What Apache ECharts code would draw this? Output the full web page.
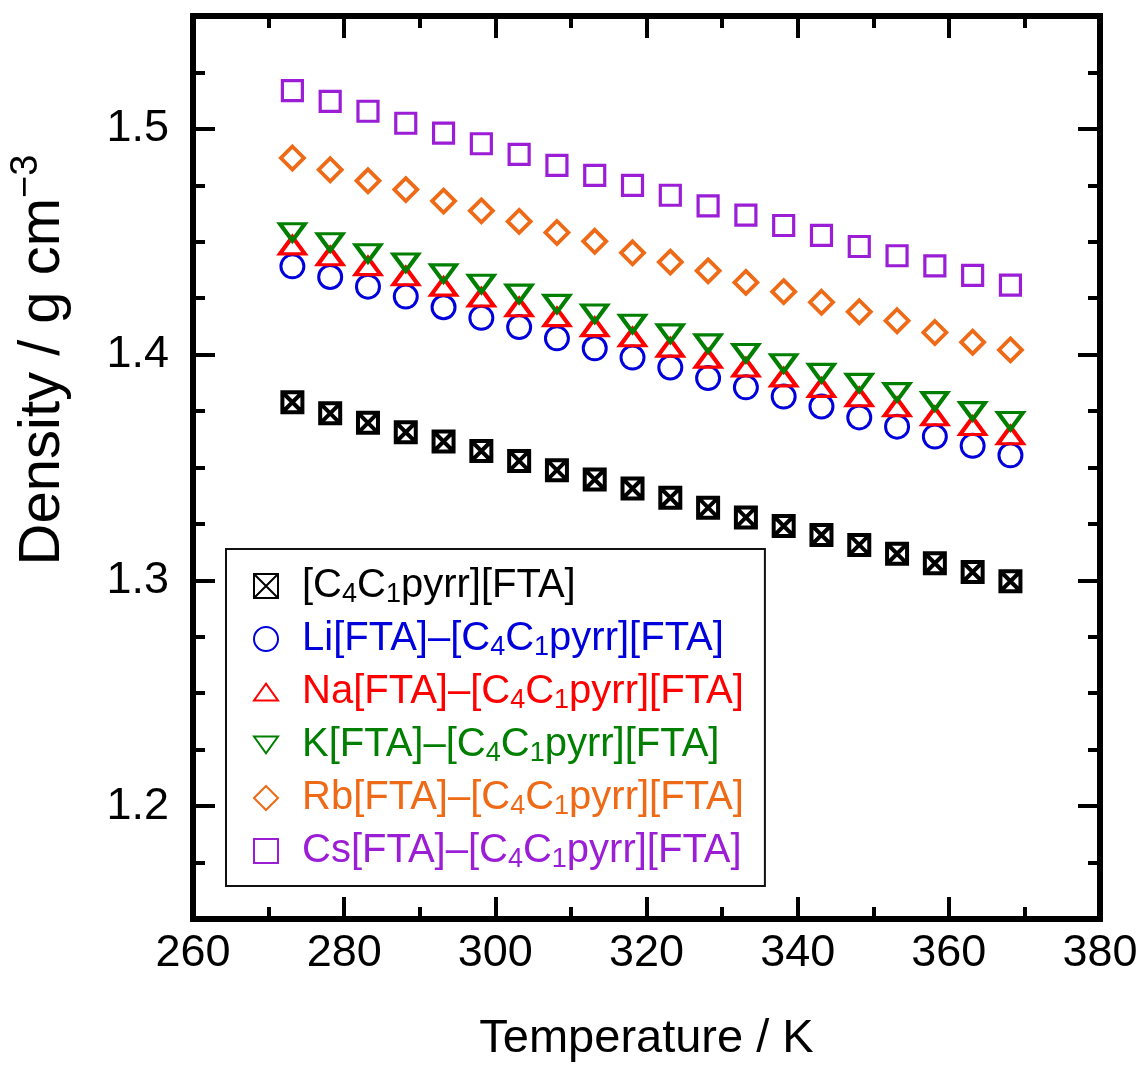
<!DOCTYPE html>
<html>
<head>
<meta charset="utf-8">
<script src="https://cdn.jsdelivr.net/npm/echarts@6.0.0/dist/echarts.min.js"></script>
<style>html,body{margin:0;padding:0;background:#fff}#c{width:1143px;height:1068px}</style>
</head>
<body>
<div id="c"></div>
<script>
// ---- data ----
const temperatures = [273.15,278.15,283.15,288.15,293.15,298.15,303.15,308.15,313.15,318.15,
                      323.15,328.15,333.15,338.15,343.15,348.15,353.15,358.15,363.15,368.15];
const pyrrFTA = [1.3789,1.3740,1.3698,1.3656,1.3615,1.3573,1.3529,1.3488,1.3447,1.3407,
                 1.3366,1.3322,1.3279,1.3241,1.3201,1.3157,1.3118,1.3076,1.3037,1.2996];
const liFTA   = [1.4391,1.4344,1.4301,1.4257,1.4210,1.4163,1.4122,1.4072,1.4028,1.3987,
                 1.3943,1.3896,1.3855,1.3814,1.3770,1.3722,1.3681,1.3637,1.3596,1.3554];
const naFTA   = [1.4484,1.4436,1.4392,1.4347,1.4301,1.4253,1.4210,1.4166,1.4122,1.4077,
                 1.4031,1.3982,1.3943,1.3899,1.3853,1.3811,1.3767,1.3727,1.3684,1.3643];
const kFTA    = [1.4542,1.4498,1.4449,1.4408,1.4360,1.4314,1.4270,1.4225,1.4182,1.4137,
                 1.4094,1.4050,1.4007,1.3962,1.3919,1.3875,1.3834,1.3794,1.3750,1.3706];
const rbFTA   = [1.4871,1.4819,1.4770,1.4731,1.4680,1.4637,1.4590,1.4541,1.4502,1.4451,
                 1.4410,1.4371,1.4320,1.4279,1.4232,1.4190,1.4150,1.4098,1.4055,1.4021];
const csFTA   = [1.5169,1.5122,1.5078,1.5025,1.4981,1.4934,1.4887,1.4838,1.4794,1.4750,
                 1.4706,1.4659,1.4618,1.4572,1.4528,1.4479,1.4438,1.4393,1.4351,1.4308];

const seriesNames = [
  '[C4C1pyrr][FTA]',
  'Li[FTA]–[C4C1pyrr][FTA]',
  'Na[FTA]–[C4C1pyrr][FTA]',
  'K[FTA]–[C4C1pyrr][FTA]',
  'Rb[FTA]–[C4C1pyrr][FTA]',
  'Cs[FTA]–[C4C1pyrr][FTA]'
];
const seriesValues = [pyrrFTA, liFTA, naFTA, kFTA, rbFTA, csFTA];
const xTicks = [260, 280, 300, 320, 340, 360, 380];
const yTickLabels = [1.2, 1.3, 1.4, 1.5];

// ---- styles ----
const colors = ['#000000', '#0000dd', '#ff0000', '#007f00', '#ee6a16', '#9b1ed6'];
const symbols = [
  'path://M0,0L10,0L10,10L0,10Z M0,0L10,10 M10,0L0,10',
  'circle',
  'path://M1,0L2,1.4L0,1.4Z',
  'path://M0,0L2,0L1,1.4Z',
  'diamond',
  'path://M0,0L10,0L10,10L0,10Z'
];
const symbolSizes = [20, 23, [25, 17], [25, 17], 23, 20];
const borderWidths = [4, 3, 3.8, 3.8, 3.8, 3.2];

const FONT = '"Liberation Sans", Arial, sans-serif';

const chart = echarts.init(document.getElementById('c'), null, {renderer: 'canvas'});

const tickStyle = {color: '#000', width: 4};
function xAxisDef(pos, showLabel) {
  return {
    type: 'value', position: pos, min: 260, max: 380, interval: 20,
    name: showLabel ? 'Temperature / K' : '',
    nameLocation: 'middle', nameGap: 97,
    nameTextStyle: {fontSize: 47, fontFamily: FONT, color: '#000'},
    axisLine: {show: true, onZero: false, lineStyle: {color: '#000', width: 6, cap: 'square'}},
    axisTick: {show: true, inside: true, length: 22, lineStyle: tickStyle},
    minorTick: {show: true, splitNumber: 2, length: 12, lineStyle: tickStyle},
    axisLabel: {show: showLabel, margin: 12, fontSize: 45, fontFamily: FONT, color: '#000',
      customValues: xTicks},
    splitLine: {show: false}, minorSplitLine: {show: false}
  };
}
function yMainDef(pos, showLabel) {
  return {
    type: 'value', position: pos, min: 1.15, max: 1.55, interval: 0.05,
    axisLine: {show: true, onZero: false, lineStyle: {color: '#000', width: 6, cap: 'square'}},
    axisTick: {show: true, inside: true, length: 22, lineStyle: tickStyle, customValues: yTickLabels},
    axisLabel: {show: showLabel, margin: 24, fontSize: 45, fontFamily: FONT, color: '#000',
      customValues: yTickLabels, formatter: v => v.toFixed(1)},
    splitLine: {show: false}
  };
}
function yMinorDef(pos) {
  return {
    type: 'value', position: pos, min: 1.15, max: 1.55, interval: 0.025,
    axisLine: {show: false, onZero: false},
    axisTick: {show: true, inside: true, length: 12, lineStyle: tickStyle},
    axisLabel: {show: false},
    splitLine: {show: false}
  };
}

const legendFormatter = name => name.replace('C4C1', 'C{s|4}C{s|1}');

const option = {
  backgroundColor: '#ffffff',
  animation: false,
  grid: {left: 193, right: 43, top: 16, bottom: 146, containLabel: false},
  xAxis: [xAxisDef('bottom', true), xAxisDef('top', false)],
  yAxis: [yMainDef('left', true), yMinorDef('left'), yMainDef('right', false), yMinorDef('right')],
  legend: {
    orient: 'vertical', left: 226, top: 549,
    padding: [15, 21, 13, 27],
    backgroundColor: '#fff', borderColor: '#111', borderWidth: 2,
    itemWidth: 24, itemHeight: 24, itemGap: 9,
    selectedMode: false,
    formatter: legendFormatter,
    textStyle: {
      fontSize: 40, fontFamily: FONT, lineHeight: 44, padding: [0, 0, 0, 19],
      rich: {s: {fontSize: 27, fontFamily: FONT, verticalAlign: 'bottom', lineHeight: 30}}
    },
    data: seriesNames.map((n, i) => ({name: n, textStyle: {color: colors[i]}}))
  },
  graphic: [{
    type: 'text', x: 43, y: 360, rotation: Math.PI / 2,
    style: {
      text: 'Density / g cm{sup|−3}',
      font: '58px ' + FONT, fill: '#000', align: 'center', verticalAlign: 'middle',
      rich: {sup: {fontSize: 38, fontFamily: FONT, fill: '#000', padding: [0, 0, 32, 0]}}
    }
  }],
  series: seriesNames.map((n, i) => ({
    name: n, type: 'scatter', xAxisIndex: 0, yAxisIndex: 0,
    symbol: symbols[i], symbolSize: symbolSizes[i],
    itemStyle: {color: 'transparent', borderColor: colors[i], borderWidth: borderWidths[i], opacity: 1},
    data: temperatures.map((t, j) => [t, seriesValues[i][j]]),
    z: 2 + i
  }))
};
chart.setOption(option);
</script>
</body>
</html>
